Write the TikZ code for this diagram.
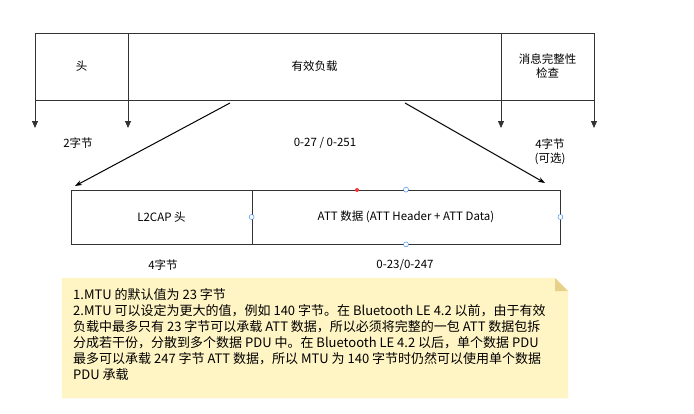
\documentclass[tikz,border=0pt]{standalone}
\usepackage{fontspec}
\setmainfont{Noto Sans CJK SC}
\usetikzlibrary{arrows.meta}
\definecolor{notefill}{HTML}{FFF4C3}
\definecolor{notedark}{HTML}{E6D08A}
\definecolor{portblue}{HTML}{1E7FE6}
\begin{document}
\begin{tikzpicture}[x=1pt,y=-1pt,
                field/.style={draw=black!80,line width=0.8pt,inner sep=0pt},
                lbl/.style={font=\fontsize{11.5}{14}\selectfont,align=center},
                down/.style={-{Triangle[length=7pt,width=6pt]},draw=black!80,line width=0.8pt},
                map/.style={-{Stealth[length=7pt,width=5pt]},line width=1pt},
                port/.style={circle,draw=portblue,fill=white,inner sep=0pt,minimum size=5pt}
            ]
                \useasboundingbox (0,0) rectangle (694,413);
                % top packet
                \node[field,minimum width=93pt,minimum height=67pt] (hdr) at (81.5,66.5) {};
                \node[field,minimum width=373pt,minimum height=67pt] (payload) at (314.5,66.5) {};
                \node[field,minimum width=93pt,minimum height=67pt] (mic) at (547.5,66.5) {};
                \node[lbl] at (hdr) {头};
                \node[lbl] at (payload) {有效负载};
                \node[lbl] at (mic) {消息完整性\\检查};
                \foreach \x/\n in {35/a,128/b,501/c,594/d}
                    {
                    \coordinate (top\n) at (\x,100);
                    \coordinate (tip\n) at (\x,128);
                    \draw[down] (top\n) -- (tip\n);
                }
                \node[lbl] (hdrlen) at (78,143) {2字节};
                \node[lbl] (paylen) at (325,143) {0-27 / 0-251};
                \node[lbl] (miclen) at (550,152) {4字节\\(可选)};
                % bottom pdu
                \node[field,minimum width=181pt,minimum height=54pt] (l2cap) at (161.5,217) {};
                \node[field,minimum width=308pt,minimum height=54pt] (att) at (406,217) {};
                \node[lbl] at (l2cap) {L2CAP 头};
                \node[lbl] at (att) {ATT 数据 (ATT Header + ATT Data)};
                \coordinate (pl) at (230,103);
                \coordinate (pr) at (405,103);
                \coordinate (bl) at (75,186);
                \coordinate (br) at (545,183);
                \draw[map] (pl) -- (bl);
                \draw[map] (pr) -- (br);
                \node[port] (p1) at (att.north) {};
                \node[port] (p2) at (att.west) {};
                \node[port] (p3) at (att.east) {};
                \node[port] (p4) at (att.south) {};
                \node[circle,fill=red!80,inner sep=0pt,minimum size=4pt] (dot) at (357,190) {};
                \node[lbl] (l2len) at (163,265) {4字节};
                \node[lbl] (attlen) at (405,265) {0-23/0-247};
                % note
                \draw[notefill,fill=notefill] (62,278) -- (555,278) -- (568,291) -- (568,398) -- (62,398) -- cycle;
                \fill[notedark] (555,278) -- (568,291) -- (555,291) -- cycle;
                \node[anchor=north west,align=left,inner sep=0pt,font=\fontsize{13}{16}\selectfont] (note) at (73,288)
                    {1.MTU 的默认值为 23 字节\\
                     2.MTU 可以设定为更大的值，例如 140 字节。在 Bluetooth LE 4.2 以前，由于有效\\
                     负载中最多只有 23 字节可以承载 ATT 数据，所以必须将完整的一包 ATT 数据包拆\\
                     分成若干份，分散到多个数据 PDU 中。在 Bluetooth LE 4.2 以后，单个数据 PDU\\
                     最多可以承载 247 字节 ATT 数据，所以 MTU 为 140 字节时仍然可以使用单个数据\\
                     PDU 承载};
            \end{tikzpicture}
\end{document}
